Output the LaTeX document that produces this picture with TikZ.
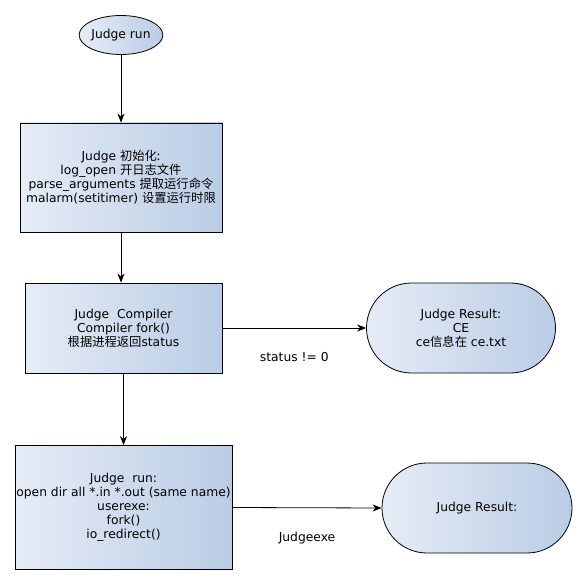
\documentclass[tikz,border=0pt]{standalone}
\usepackage{fontspec}
\setmainfont{DejaVu Sans}
\newfontfamily\cjk{Noto Sans CJK SC}
\usetikzlibrary{arrows.meta,shapes.geometric,shapes.misc}
\definecolor{gradL}{HTML}{E6ECF6}
\definecolor{gradR}{HTML}{BACCE5}
\tikzset{
  box/.style={draw,thick,rectangle,align=center,inner sep=0pt,left color=gradL,right color=gradR},
  startnode/.style={draw,thick,ellipse,inner sep=0pt,left color=gradL,right color=gradR},
  result/.style={draw,thick,rounded rectangle,align=center,inner sep=0pt,left color=gradL,right color=gradR},
  flow/.style={thick,-{Stealth[length=9pt,width=7pt]}}
}
\begin{document}
\begin{tikzpicture}[x=1pt,y=-1pt,font=\fontsize{12.3}{14}\selectfont]
\useasboundingbox (0,0) rectangle (587,586);
\node[startnode,minimum width=80pt,minimum height=39pt] (start) at (121,35) {Judge run};
\node[box,minimum width=202pt,minimum height=109pt] (init) at (121,177.5)
     {Judge {\cjk 初始化:}\\log\_open {\cjk 开日志文件}\\parse\_arguments {\cjk 提取运行命令}\\malarm(setitimer) {\cjk 设置运行时限}};
\node[box,minimum width=197pt,minimum height=90pt] (comp) at (123.5,328)
     {Judge~~Compiler\\Compiler fork()\\{\cjk 根据进程返回}status};
\node[box,minimum width=217pt,minimum height=124pt] (run) at (123.5,507.5)
     {Judge~~run:\\open dir all *.in *.out (same name)\\userexe:\\fork()\\io\_redirect()};
\node[result,minimum width=189pt,minimum height=90pt] (ce) at (461,328)
     {Judge Result:\\CE\\ce{\cjk 信息在} ce.txt};
\node[result,minimum width=190pt,minimum height=90pt] (res) at (477,508) {Judge Result:};

\draw[flow] (start) -- (init.north);
\draw[flow] (init.south) -- (init.south|-comp.north);
\draw[flow] (comp.south) -- (comp.south|-run.north);
\draw[flow] (comp.east) -- (ce.west) node[midway,yshift=-29pt] (cenote) {status != 0};
\draw[flow] (run.east) -- (res.west) node[midway,yshift=-30pt] (resnote) {Judgeexe};
\end{tikzpicture}
\end{document}
